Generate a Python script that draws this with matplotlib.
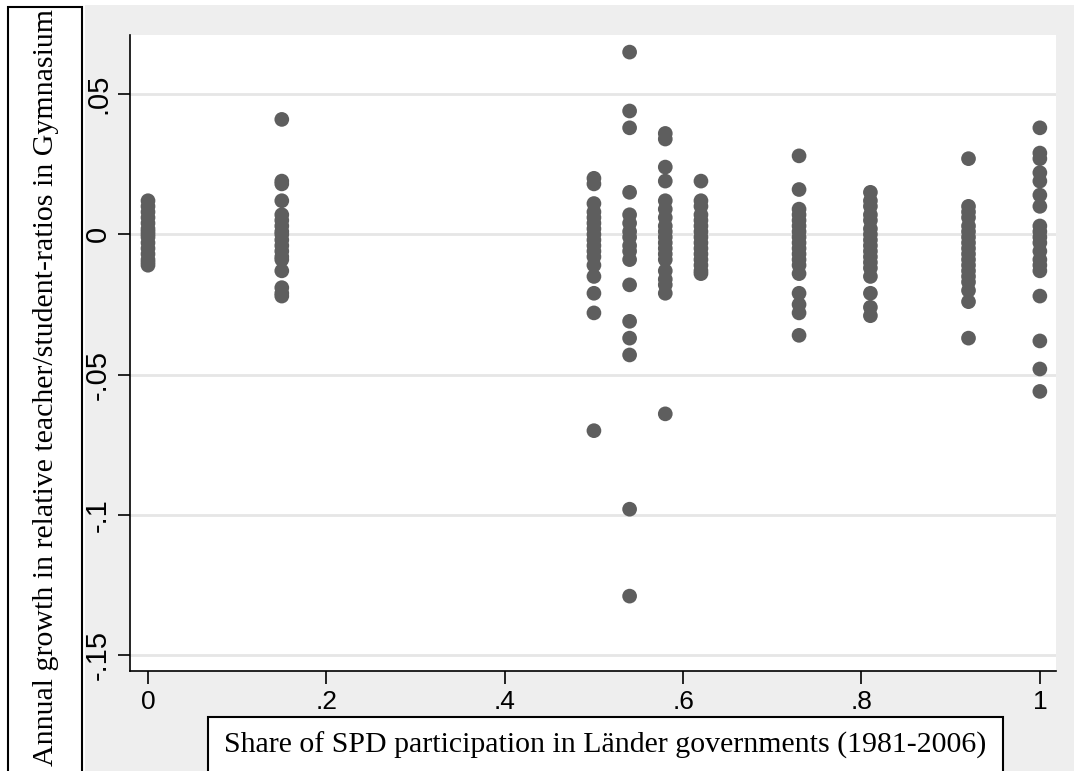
import numpy as np
import matplotlib.pyplot as plt
from matplotlib.patches import Rectangle

# valores (cuota de participacion SPD y crecimiento anual)
col_x = [0.0, 0.15, 0.5, 0.54, 0.58, 0.62, 0.73, 0.81, 0.92, 1.0]

y_000 = [0.012, 0.010, 0.008, 0.006, 0.004, 0.002, 0.001, 0.000, -0.001, -0.003,
         -0.005, -0.007, -0.009, -0.010, -0.011]
y_015 = [0.041, 0.019, 0.018, 0.012, 0.007, 0.005, 0.003, 0.001, 0.000, -0.002,
         -0.004, -0.006, -0.008, -0.009, -0.013, -0.019, -0.021, -0.022]
y_050 = [0.020, 0.018, 0.011, 0.008, 0.006, 0.004, 0.002, 0.000, -0.002, -0.004,
         -0.006, -0.008, -0.011, -0.015, -0.021, -0.028, -0.070]
y_054 = [0.065, 0.044, 0.038, 0.015, 0.007, 0.004, 0.001, -0.001, -0.004, -0.006,
         -0.009, -0.018, -0.031, -0.037, -0.043, -0.098, -0.129]
y_058 = [0.036, 0.034, 0.024, 0.019, 0.012, 0.009, 0.006, 0.003, 0.001, -0.001,
         -0.003, -0.005, -0.007, -0.009, -0.013, -0.016, -0.018, -0.021, -0.064]
y_062 = [0.019, 0.012, 0.010, 0.007, 0.005, 0.003, 0.001, -0.001, -0.003, -0.005,
         -0.007, -0.009, -0.011, -0.013, -0.014]
y_073 = [0.028, 0.016, 0.009, 0.007, 0.005, 0.003, 0.001, -0.001, -0.003, -0.005,
         -0.007, -0.009, -0.011, -0.014, -0.021, -0.025, -0.028, -0.036]
y_081 = [0.015, 0.012, 0.010, 0.007, 0.005, 0.002, 0.000, -0.002, -0.004, -0.006,
         -0.008, -0.010, -0.012, -0.015, -0.021, -0.026, -0.029]
y_092 = [0.027, 0.010, 0.008, 0.006, 0.003, 0.001, -0.001, -0.003, -0.005, -0.007,
         -0.009, -0.011, -0.013, -0.015, -0.017, -0.020, -0.024, -0.037]
y_100 = [0.038, 0.029, 0.027, 0.022, 0.019, 0.014, 0.010, 0.003, 0.001, -0.001,
         -0.003, -0.006, -0.009, -0.011, -0.013, -0.022, -0.038, -0.048, -0.056]

columnas = [y_000, y_015, y_050, y_054, y_058, y_062, y_073, y_081, y_092, y_100]

x_ticks = [0, 0.2, 0.4, 0.6, 0.8, 1.0]
x_labels = ['0', '.2', '.4', '.6', '.8', '1']
y_ticks = [0.05, 0, -0.05, -0.1, -0.15]
y_labels = ['.05', '0', '-.05', '-.1', '-.15']

W, H = 1074, 771
fig = plt.figure(figsize=(W / 100, H / 100), dpi=100)
fig.patch.set_facecolor('white')

# fondo gris estilo stata
fig.patches.append(Rectangle((85 / W, 0), 1 - 85 / W, 1 - 5 / H, transform=fig.transFigure,
                             facecolor='#eeeeee', edgecolor='none', zorder=-5))

ax = fig.add_axes([130 / W, 1 - 671 / H, (1056 - 130) / W, (671 - 35) / H])
ax.set_zorder(3)
ax.set_facecolor('white')

for xv, ys in zip(col_x, columnas):
    ax.scatter(np.full(len(ys), xv), ys, s=112, color='#5e5e5e', edgecolors='none', zorder=3)

ax.set_xlim(-0.0202, 1.0181)
ax.set_ylim(-0.1557, 0.0711)
ax.set_yticks(y_ticks)
ax.set_yticklabels(y_labels, rotation=90, va='center')
ax.set_xticks(x_ticks)
ax.set_xticklabels(x_labels)
ax.grid(axis='y', color='#e6e6e6', linewidth=2)
ax.set_axisbelow(True)
for s in ['top', 'right']:
    ax.spines[s].set_visible(False)
for s in ['left', 'bottom']:
    ax.spines[s].set_linewidth(1.2)
ax.tick_params(length=9, width=1.2)
ax.tick_params(axis='x', pad=5, labelsize=19)
ax.tick_params(axis='y', pad=4, labelsize=21)
for lab in ax.get_xticklabels():
    lab.set_family(['Liberation Sans Narrow', 'Liberation Sans'])
for lab in ax.get_yticklabels():
    lab.set_family('Liberation Sans')

# titulos de ejes en cajas
fig.patches.append(Rectangle((8 / W, -0.05), 74 / W, 1.05 - 7 / H, transform=fig.transFigure,
                             facecolor='white', edgecolor='black', linewidth=1.5, zorder=1))
fig.patches.append(Rectangle((208 / W, -0.05), 795 / W, 0.05 + (771 - 717) / H, transform=fig.transFigure,
                             facecolor='white', edgecolor='black', linewidth=1.5, zorder=1))
fig.text(46 / W, 1 - 388 / H, 'Annual growth in relative teacher/student-ratios in Gymnasium',
         rotation=90, ha='center', va='center', fontsize=21.5, family='Liberation Serif', zorder=2)
fig.text(605 / W, 1 - 745 / H, 'Share of SPD participation in Länder governments (1981-2006)',
         ha='center', va='center', fontsize=21.5, family='Liberation Serif', zorder=2)

plt.savefig('out.png', dpi=100)
